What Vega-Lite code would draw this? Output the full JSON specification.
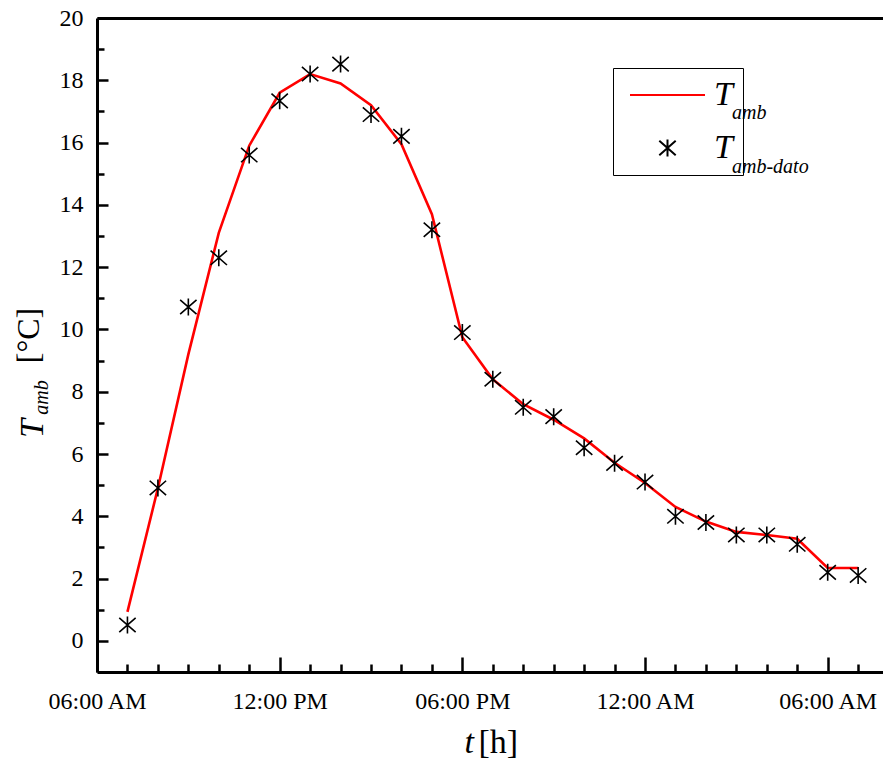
{
  "$schema": "https://vega.github.io/schema/vega-lite/v6.json",
  "width": 786,
  "height": 654,
  "autosize": {"type": "none"},
  "padding": {"left": 97, "top": 18, "right": 0, "bottom": 89},
  "background": "white",
  "config": {
    "view": {"stroke": null},
    "axis": {
      "grid": false,
      "domainColor": "black",
      "tickColor": "black",
      "labelColor": "black",
      "titleColor": "black",
      "labelFont": "Liberation Serif",
      "titleFont": "Liberation Serif",
      "titleFontWeight": "normal",
      "labelFlush": false,
      "labelOverlap": false
    }
  },
  "datasets": {
    "d": [
      {"t": "2015-03-01T07:00:00", "v": 0.93, "series": "Tamb", "sub": "amb"},
      {"t": "2015-03-01T08:00:00", "v": 4.9, "series": "Tamb", "sub": "amb"},
      {"t": "2015-03-01T09:00:00", "v": 9.2, "series": "Tamb", "sub": "amb"},
      {"t": "2015-03-01T10:00:00", "v": 13.1, "series": "Tamb", "sub": "amb"},
      {"t": "2015-03-01T11:00:00", "v": 15.9, "series": "Tamb", "sub": "amb"},
      {"t": "2015-03-01T12:00:00", "v": 17.6, "series": "Tamb", "sub": "amb"},
      {"t": "2015-03-01T13:00:00", "v": 18.2, "series": "Tamb", "sub": "amb"},
      {"t": "2015-03-01T14:00:00", "v": 17.9, "series": "Tamb", "sub": "amb"},
      {"t": "2015-03-01T15:00:00", "v": 17.2, "series": "Tamb", "sub": "amb"},
      {"t": "2015-03-01T16:00:00", "v": 15.95, "series": "Tamb", "sub": "amb"},
      {"t": "2015-03-01T17:00:00", "v": 13.7, "series": "Tamb", "sub": "amb"},
      {"t": "2015-03-01T18:00:00", "v": 9.75, "series": "Tamb", "sub": "amb"},
      {"t": "2015-03-01T19:00:00", "v": 8.4, "series": "Tamb", "sub": "amb"},
      {"t": "2015-03-01T20:00:00", "v": 7.6, "series": "Tamb", "sub": "amb"},
      {"t": "2015-03-01T21:00:00", "v": 7.1, "series": "Tamb", "sub": "amb"},
      {"t": "2015-03-01T22:00:00", "v": 6.5, "series": "Tamb", "sub": "amb"},
      {"t": "2015-03-01T23:00:00", "v": 5.72, "series": "Tamb", "sub": "amb"},
      {"t": "2015-03-02T00:00:00", "v": 5.07, "series": "Tamb", "sub": "amb"},
      {"t": "2015-03-02T01:00:00", "v": 4.3, "series": "Tamb", "sub": "amb"},
      {"t": "2015-03-02T02:00:00", "v": 3.83, "series": "Tamb", "sub": "amb"},
      {"t": "2015-03-02T03:00:00", "v": 3.5, "series": "Tamb", "sub": "amb"},
      {"t": "2015-03-02T04:00:00", "v": 3.4, "series": "Tamb", "sub": "amb"},
      {"t": "2015-03-02T05:00:00", "v": 3.28, "series": "Tamb", "sub": "amb"},
      {"t": "2015-03-02T06:00:00", "v": 2.34, "series": "Tamb", "sub": "amb"},
      {"t": "2015-03-02T07:00:00", "v": 2.34, "series": "Tamb", "sub": "amb"},
      {"t": "2015-03-01T07:00:00", "v": 0.51, "series": "Tamb-dato", "sub": "amb-dato"},
      {"t": "2015-03-01T08:00:00", "v": 4.91, "series": "Tamb-dato", "sub": "amb-dato"},
      {"t": "2015-03-01T09:00:00", "v": 10.72, "series": "Tamb-dato", "sub": "amb-dato"},
      {"t": "2015-03-01T10:00:00", "v": 12.3, "series": "Tamb-dato", "sub": "amb-dato"},
      {"t": "2015-03-01T11:00:00", "v": 15.6, "series": "Tamb-dato", "sub": "amb-dato"},
      {"t": "2015-03-01T12:00:00", "v": 17.34, "series": "Tamb-dato", "sub": "amb-dato"},
      {"t": "2015-03-01T13:00:00", "v": 18.2, "series": "Tamb-dato", "sub": "amb-dato"},
      {"t": "2015-03-01T14:00:00", "v": 18.52, "series": "Tamb-dato", "sub": "amb-dato"},
      {"t": "2015-03-01T15:00:00", "v": 16.9, "series": "Tamb-dato", "sub": "amb-dato"},
      {"t": "2015-03-01T16:00:00", "v": 16.2, "series": "Tamb-dato", "sub": "amb-dato"},
      {"t": "2015-03-01T17:00:00", "v": 13.2, "series": "Tamb-dato", "sub": "amb-dato"},
      {"t": "2015-03-01T18:00:00", "v": 9.9, "series": "Tamb-dato", "sub": "amb-dato"},
      {"t": "2015-03-01T19:00:00", "v": 8.4, "series": "Tamb-dato", "sub": "amb-dato"},
      {"t": "2015-03-01T20:00:00", "v": 7.5, "series": "Tamb-dato", "sub": "amb-dato"},
      {"t": "2015-03-01T21:00:00", "v": 7.2, "series": "Tamb-dato", "sub": "amb-dato"},
      {"t": "2015-03-01T22:00:00", "v": 6.2, "series": "Tamb-dato", "sub": "amb-dato"},
      {"t": "2015-03-01T23:00:00", "v": 5.7, "series": "Tamb-dato", "sub": "amb-dato"},
      {"t": "2015-03-02T00:00:00", "v": 5.1, "series": "Tamb-dato", "sub": "amb-dato"},
      {"t": "2015-03-02T01:00:00", "v": 4.0, "series": "Tamb-dato", "sub": "amb-dato"},
      {"t": "2015-03-02T02:00:00", "v": 3.8, "series": "Tamb-dato", "sub": "amb-dato"},
      {"t": "2015-03-02T03:00:00", "v": 3.4, "series": "Tamb-dato", "sub": "amb-dato"},
      {"t": "2015-03-02T04:00:00", "v": 3.4, "series": "Tamb-dato", "sub": "amb-dato"},
      {"t": "2015-03-02T05:00:00", "v": 3.1, "series": "Tamb-dato", "sub": "amb-dato"},
      {"t": "2015-03-02T06:00:00", "v": 2.2, "series": "Tamb-dato", "sub": "amb-dato"},
      {"t": "2015-03-02T07:00:00", "v": 2.1, "series": "Tamb-dato", "sub": "amb-dato"}
    ]
  },
  "data": {"name": "d"},
  "resolve": {"axis": {"x": "independent", "y": "independent"}},
  "layer": [
    {
      "transform": [{"filter": "datum.series == 'Tamb'"}],
      "mark": {"type": "line", "strokeWidth": 2.6},
      "encoding": {
        "x": {
          "field": "t", "type": "temporal",
          "scale": {"domain": [{"year": 2015, "month": 3, "date": 1, "hours": 6}, {"year": 2015, "month": 3, "date": 2, "hours": 7, "minutes": 49}]},
          "axis": {
            "orient": "bottom",
            "values": [
              {"year": 2015, "month": 3, "date": 1, "hours": 6},
              {"year": 2015, "month": 3, "date": 1, "hours": 12},
              {"year": 2015, "month": 3, "date": 1, "hours": 18},
              {"year": 2015, "month": 3, "date": 2, "hours": 0},
              {"year": 2015, "month": 3, "date": 2, "hours": 6}
            ],
            "format": "%I:%M %p",
            "labelFontSize": 24,
            "labelPadding": 32,
            "tickSize": -15,
            "tickWidth": 2.5,
            "domainWidth": 3,
            "title": "t",
            "titleFontSize": 34,
            "titleFontStyle": "italic",
            "titleAlign": "left",
            "titleBaseline": "alphabetic",
            "titleX": 367,
            "titleY": 80
          }
        },
        "y": {
          "field": "v", "type": "quantitative",
          "scale": {"domain": [-1, 20], "nice": false, "zero": false},
          "axis": {
            "orient": "left",
            "values": [0, 2, 4, 6, 8, 10, 12, 14, 16, 18, 20],
            "labelFontSize": 24,
            "labelPadding": 25,
            "tickSize": -11,
            "tickWidth": 2.5,
            "domainWidth": 3,
            "title": "T",
            "titleFontSize": 34,
            "titleFontStyle": "italic",
            "titleAngle": -90,
            "titleAlign": "center",
            "titleBaseline": "alphabetic",
            "titleX": -55,
            "titleY": 410
          }
        },
        "color": {
          "field": "series", "type": "nominal",
          "scale": {"domain": ["Tamb", "Tamb-dato"], "range": ["#ff0000", "#000000"]}
        }
      }
    },
    {
      "transform": [{"filter": "datum.series == 'Tamb-dato'"}],
      "mark": {"type": "point", "filled": false, "size": 400, "strokeWidth": 1.6, "opacity": 1},
      "encoding": {
        "x": {
          "field": "t", "type": "temporal",
          "axis": {
            "orient": "bottom",
            "values": [
              {"year": 2015, "month": 3, "date": 1, "hours": 7},
              {"year": 2015, "month": 3, "date": 1, "hours": 8},
              {"year": 2015, "month": 3, "date": 1, "hours": 9},
              {"year": 2015, "month": 3, "date": 1, "hours": 10},
              {"year": 2015, "month": 3, "date": 1, "hours": 11},
              {"year": 2015, "month": 3, "date": 1, "hours": 13},
              {"year": 2015, "month": 3, "date": 1, "hours": 14},
              {"year": 2015, "month": 3, "date": 1, "hours": 15},
              {"year": 2015, "month": 3, "date": 1, "hours": 16},
              {"year": 2015, "month": 3, "date": 1, "hours": 17},
              {"year": 2015, "month": 3, "date": 1, "hours": 19},
              {"year": 2015, "month": 3, "date": 1, "hours": 20},
              {"year": 2015, "month": 3, "date": 1, "hours": 21},
              {"year": 2015, "month": 3, "date": 1, "hours": 22},
              {"year": 2015, "month": 3, "date": 1, "hours": 23},
              {"year": 2015, "month": 3, "date": 2, "hours": 1},
              {"year": 2015, "month": 3, "date": 2, "hours": 2},
              {"year": 2015, "month": 3, "date": 2, "hours": 3},
              {"year": 2015, "month": 3, "date": 2, "hours": 4},
              {"year": 2015, "month": 3, "date": 2, "hours": 5},
              {"year": 2015, "month": 3, "date": 2, "hours": 7}
            ],
            "labels": false,
            "domain": false,
            "tickSize": -8,
            "tickWidth": 2.5,
            "title": "[h]",
            "titleFontSize": 34,
            "titleAlign": "left",
            "titleBaseline": "alphabetic",
            "titleX": 381,
            "titleY": 80
          }
        },
        "y": {
          "field": "v", "type": "quantitative",
          "axis": {
            "orient": "left",
            "values": [1, 3, 5, 7, 9, 11, 13, 15, 17, 19],
            "labels": false,
            "domain": false,
            "tickSize": -7,
            "tickWidth": 2.5,
            "title": "amb",
            "titleFontSize": 20,
            "titleFontStyle": "italic",
            "titleAngle": -90,
            "titleAlign": "center",
            "titleBaseline": "alphabetic",
            "titleX": -50,
            "titleY": 379
          }
        },
        "color": {
          "field": "series", "type": "nominal",
          "legend": {
            "orient": "none",
            "legendX": 516,
            "legendY": 50,
            "title": null,
            "padding": 10,
            "strokeColor": "black",
            "fillColor": "white",
            "symbolSize": 400,
            "symbolStrokeWidth": 2,
            "symbolOffset": 27.5,
            "labelOffset": 29.5,
            "rowPadding": 19,
            "labelFont": "Liberation Serif",
            "labelFontStyle": "italic",
            "labelFontSize": 34,
            "labelColor": "black",
            "labelLimit": 300,
            "labelExpr": "'T\u00a0\u00a0\u00a0\u00a0\u00a0\u00a0\u00a0\u00a0\u00a0\u00a0\u00a0\u00a0\u00a0\u00a0\u00a0\u00a0\u00a0'",
            "encode": {
              "symbols": {
                "update": {
                  "strokeWidth": {"signal": "datum.value == 'Tamb' ? 2.6 : 1.6"},
                  "fill": {"value": "transparent"},
                  "opacity": {"value": 1}
                }
              }
            }
          }
        },
        "shape": {
          "field": "series", "type": "nominal",
          "scale": {
            "domain": ["Tamb", "Tamb-dato"],
            "range": ["M-3.75,0L3.75,0", "M0,-0.85L0,0.85M-0.82,-0.72L0.82,0.72M-0.82,0.72L0.82,-0.72"]
          }
        }
      }
    },
    {
      "mark": {"type": "point", "size": 400, "filled": true, "opacity": 0},
      "encoding": {
        "x": {
          "field": "t", "type": "temporal",
          "axis": {
            "orient": "top",
            "labels": false,
            "ticks": false,
            "domain": true,
            "domainWidth": 3,
            "title": null
          }
        },
        "y": {
          "field": "v", "type": "quantitative",
          "axis": {
            "orient": "left",
            "labels": false,
            "ticks": false,
            "domain": false,
            "title": "[°C]",
            "titleFontSize": 32,
            "titleAngle": -90,
            "titleAlign": "center",
            "titleBaseline": "alphabetic",
            "titleX": -59,
            "titleY": 317
          }
        },
        "fill": {
          "field": "sub", "type": "nominal",
          "scale": {"domain": ["amb", "amb-dato"], "range": ["transparent", "transparent"]},
          "legend": {
            "orient": "none",
            "legendX": 516,
            "legendY": 74,
            "title": null,
            "padding": 10,
            "symbolSize": 400,
            "symbolStrokeWidth": 2,
            "symbolOffset": 27.5,
            "symbolOpacity": 0,
            "labelOffset": 59.5,
            "rowPadding": 33,
            "labelFont": "Liberation Serif",
            "labelFontStyle": "italic",
            "labelFontSize": 20,
            "labelColor": "black"
          }
        }
      }
    }
  ]
}
